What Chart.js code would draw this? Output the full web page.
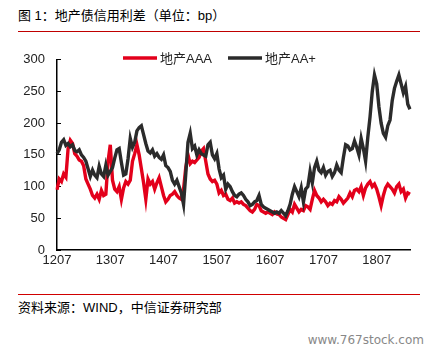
<!DOCTYPE html>
<html>
<head>
<meta charset="utf-8">
<script src="https://cdn.jsdelivr.net/npm/chart.js@4"></script>
<style>
  html, body { margin: 0; padding: 0; background: #fff; }
  body { width: 437px; height: 353px; position: relative; overflow: hidden;
         font-family: "Liberation Sans", "Noto Sans CJK SC", sans-serif; color: #000; }
  .title { position: absolute; left: 18px; top: 6px; width: 402px; height: 25px;
           font-size: 13px; line-height: 20px; border-bottom: 1.5px solid #c00000; }
  .source { position: absolute; left: 18px; top: 294px; width: 402px;
            font-size: 13px; line-height: 26px; border-top: 1.5px solid #d00000; }
  .mark { position: absolute; right: 13px; top: 333px; font-family: "DejaVu Sans", sans-serif;
          font-size: 12px; color: #888; }
  #wrap { position: absolute; left: 0; top: 36px; width: 437px; height: 240px; }
</style>
</head>
<body>
<div class="title">图 1：地产债信用利差（单位：bp）</div>
<div id="wrap"><canvas id="c" width="437" height="240"></canvas></div>
<div class="source">资料来源：WIND，中信证券研究部</div>
<div class="mark">www.767stock.com</div>
<script>
// 半月一个点，2012-07 起
const SERIES_NAMES = ["地产AAA", "地产AA+"];
const Y_TICKS = [0, 50, 100, 150, 200, 250, 300];
const X_TICK_LABELS = ["1207", "1307", "1407", "1507", "1607", "1707", "1807"];

// 地产AAA
const AAA = [
  95, 112, 108, 120, 115, 160, 173, 168, 152, 148, 142, 140, 133, 112, 104, 96, 86, 82, 88, 80,
  94, 86, 88, 140, 166, 110, 96, 92, 100, 80, 98, 108, 104, 110, 140, 152, 166, 150, 128, 106,
  80, 112, 104, 108, 96, 106, 114, 100, 86, 76, 80, 86, 88, 92, 86, 82, 80, 96, 130, 150,
  136, 140, 138, 142, 146, 156, 160, 140, 120, 112, 108, 110, 104, 90, 94, 86, 88, 80, 78, 82,
  74, 76, 74, 76, 72, 70, 66, 62, 60, 64, 72, 70, 62, 60, 58, 60, 58, 56, 60, 57,
  56, 52, 50, 48, 56, 64, 60, 72, 66, 60, 64, 62, 70, 68, 64, 80, 94, 86, 82, 76,
  80, 76, 70, 74, 72, 78, 76, 84, 80, 74, 78, 82, 90, 84, 94, 96, 92, 100, 86, 98,
  104, 108, 100, 104, 96, 84, 70, 86, 98, 104, 100, 96, 90, 100, 104, 92, 96, 82, 90, 88
];

// 地产AA+
const AAplus = [
  152, 158, 170, 174, 165, 168, 163, 166, 157, 155, 158, 150, 146, 140, 128, 116, 126, 118, 114, 132,
  120, 116, 134, 118, 124, 130, 145, 158, 160, 138, 118, 120, 144, 176, 162, 170, 188, 193, 196, 182,
  168, 156, 153, 158, 148, 152, 146, 143, 150, 133, 130, 124, 110, 104, 110, 100, 90, 72, 120, 170,
  184, 160, 164, 150, 158, 152, 150, 148, 166, 170, 150, 144, 152, 128, 114, 118, 96, 104, 100, 92,
  86, 84, 88, 90, 86, 80, 76, 70, 72, 76, 78, 86, 72, 68, 66, 64, 62, 60, 58, 60,
  58, 62, 58, 54, 62, 72, 88, 100, 92, 84, 98, 76, 96, 100, 124, 106, 130, 140, 126, 122,
  130, 118, 124, 126, 116, 122, 134, 126, 122, 146, 166, 164, 158, 160, 172, 162, 150, 176, 160, 140,
  178, 210, 250, 276, 262, 226, 200, 184, 178, 196, 205, 236, 255, 266, 276, 262, 248, 258, 230, 222
];

// 日期标签 YYMM（每月两个点）
const labels = AAA.map((_, i) => {
  const mi = Math.floor(i / 2) + 6;
  const yy = 12 + Math.floor(mi / 12);
  const mm = (mi % 12) + 1;
  return String(yy) + String(mm).padStart(2, "0");
});

const COLORS = ["#e3001b", "#2b2b2b"];

// 图例画在绘图区里
const insideLegend = {
  id: "insideLegend",
  afterDraw(chart) {
    const ctx = chart.ctx;
    const pos = [[123, 22], [228, 22]];
    ctx.save();
    ctx.font = '13px "Liberation Sans", "Noto Sans CJK SC", sans-serif';
    ctx.textBaseline = "middle";
    chart.data.datasets.forEach((ds, i) => {
      const [x, y] = pos[i];
      ctx.strokeStyle = ds.borderColor;
      ctx.lineWidth = 3.5;
      ctx.beginPath(); ctx.moveTo(x, y); ctx.lineTo(x + 34, y); ctx.stroke();
      ctx.fillStyle = "#222";
      ctx.fillText(ds.label, x + 37, y + 1);
    });
    ctx.restore();
  }
};

new Chart(document.getElementById("c"), {
  type: "line",
  data: {
    labels,
    datasets: [
      { label: SERIES_NAMES[0], data: AAA, borderColor: COLORS[0], borderWidth: 3.4, pointRadius: 0, order: 2 },
      { label: SERIES_NAMES[1], data: AAplus, borderColor: COLORS[1], borderWidth: 3.4, pointRadius: 0, order: 1 }
    ]
  },
  options: {
    responsive: false,
    animation: false,
    layout: { padding: { left: 0, right: 27, top: 11, bottom: 0 } },
    plugins: { legend: { display: false }, tooltip: { enabled: false } },
    scales: {
      x: {
        type: "category",
        offset: false,
        grid: { display: false, drawTicks: false },
        border: { color: "#000", width: 1.5 },
        ticks: {
          autoSkip: false, maxRotation: 0, padding: 3,
          color: "#222", font: { size: 13, family: '"Liberation Sans", sans-serif' },
          callback: (v, i) => {
            const lab = labels[i];
            return (i % 2 === 0 && X_TICK_LABELS.includes(lab)) ? lab : "";
          }
        },
        afterFit: s => { s.height = 26; }
      },
      y: {
        min: 0, max: 300,
        afterBuildTicks: s => { s.ticks = Y_TICKS.map(v => ({ value: v })); },
        grid: { drawOnChartArea: false, drawTicks: true, tickLength: -4, color: "#000", lineWidth: 1 },
        border: { color: "#000", width: 1.5 },
        ticks: { padding: 16, color: "#222", font: { size: 13, family: '"Liberation Sans", sans-serif' } },
        afterFit: s => { s.width = 57; }
      }
    }
  },
  plugins: [insideLegend]
});
</script>
</body>
</html>
